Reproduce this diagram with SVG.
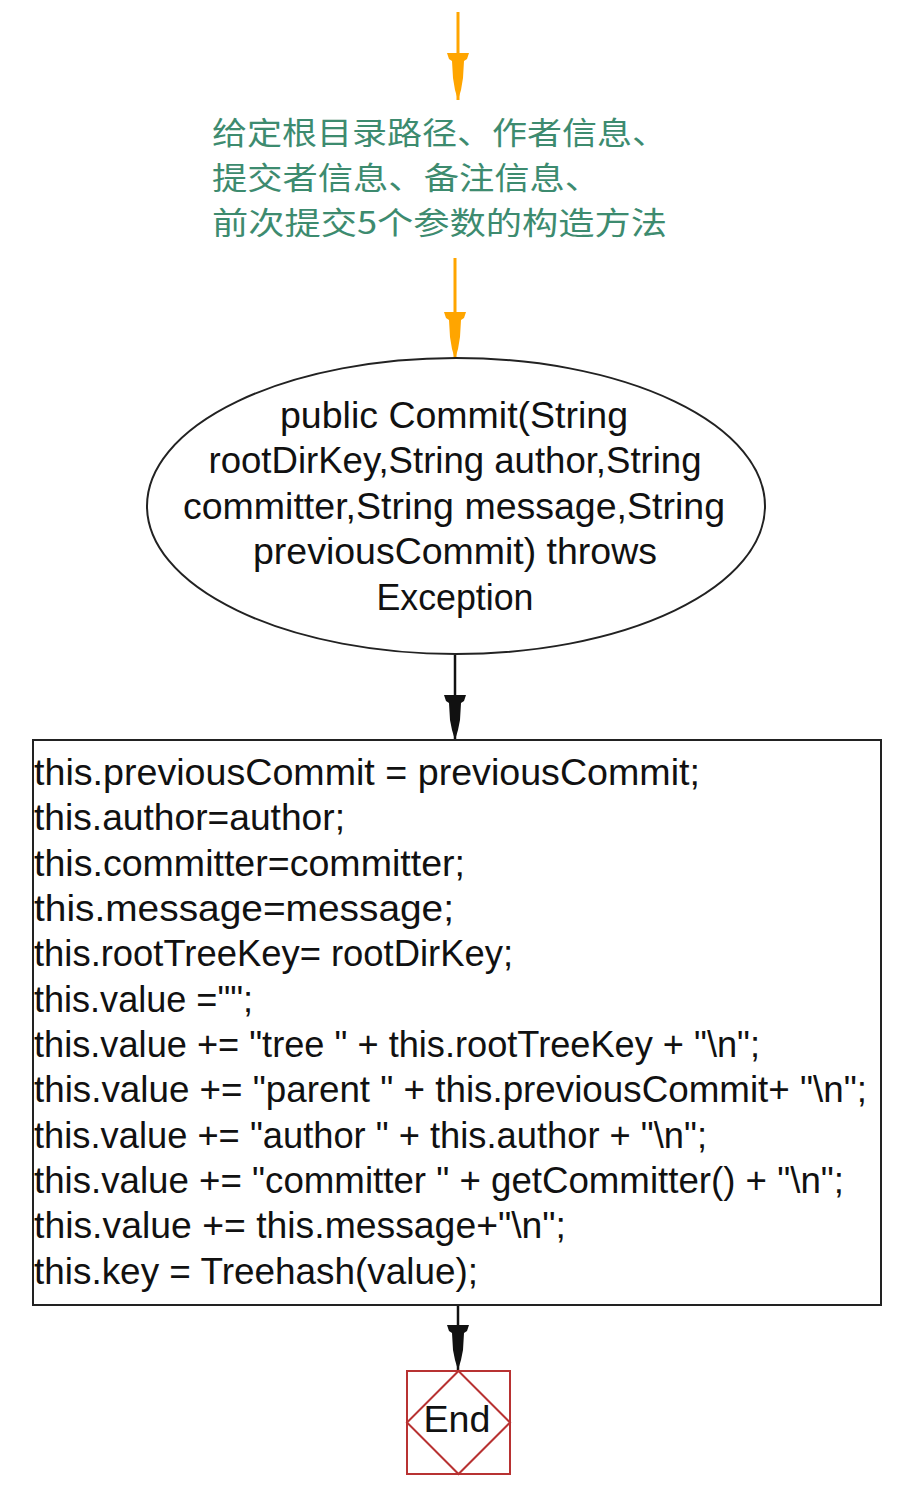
<svg xmlns="http://www.w3.org/2000/svg" width="910" height="1499" viewBox="0 0 910 1499">
<style>
.cn{font-family:"Noto Sans CJK SC","Liberation Sans",sans-serif;font-size:31px;fill:#3d8b6f}
.t{font-family:"Liberation Sans",Arial,sans-serif;font-size:36px;fill:#111}
.node{fill:#fff;stroke:#222;stroke-width:2}
.org{stroke:#ffa500;stroke-width:3;fill:none}
.blk{stroke:#111;stroke-width:2.5;fill:none}
.end{fill:none;stroke:#b83232;stroke-width:2}
</style>
<defs>
<marker id="ho" markerUnits="userSpaceOnUse" orient="auto" refX="0" refY="0" markerWidth="60" markerHeight="30" viewBox="-50 -15 60 30" overflow="visible">
<path d="M-47,-11 L-47,11 L-41,9 L-39,6 L-22,5 L-10,3 L0,0 L-10,-3 L-22,-5 L-39,-6 L-41,-9 Z" fill="#ffa500"/>
</marker>
<marker id="hb" markerUnits="userSpaceOnUse" orient="auto" refX="0" refY="0" markerWidth="60" markerHeight="30" viewBox="-50 -15 60 30" overflow="visible">
<path d="M-45,-11 L-45,11 L-39,9 L-37,6 L-20,5 L-10,3 L0,0 L-10,-3 L-20,-5 L-37,-6 L-39,-9 Z" fill="#111"/>
</marker>
</defs>

<g id="connectors">
<line class="org" x1="458" y1="12" x2="458" y2="100" marker-end="url(#ho)"/>
<line class="org" x1="455" y1="258" x2="455" y2="359" marker-end="url(#ho)"/>
<line class="blk" x1="455" y1="655" x2="455" y2="740" marker-end="url(#hb)"/>
<line class="blk" x1="458" y1="1305" x2="458" y2="1370" marker-end="url(#hb)"/>
</g>

<g id="label">
<text class="cn" x="212" y="144" textLength="455" lengthAdjust="spacingAndGlyphs">给定根目录路径、作者信息、</text>
<text class="cn" x="212" y="189" textLength="388" lengthAdjust="spacingAndGlyphs">提交者信息、备注信息、</text>
<text class="cn" x="212" y="234" textLength="455" lengthAdjust="spacingAndGlyphs">前次提交5个参数的构造方法</text>
</g>

<g id="start">
<ellipse class="node" cx="456" cy="506" rx="309" ry="148"/>
<g text-anchor="middle">
<text class="t" x="454" y="428" textLength="348" lengthAdjust="spacingAndGlyphs">public Commit(String</text>
<text class="t" x="455" y="473" textLength="493" lengthAdjust="spacingAndGlyphs">rootDirKey,String author,String</text>
<text class="t" x="454" y="519" textLength="542" lengthAdjust="spacingAndGlyphs">committer,String message,String</text>
<text class="t" x="455" y="564" textLength="404" lengthAdjust="spacingAndGlyphs">previousCommit) throws</text>
<text class="t" x="455" y="610" textLength="157" lengthAdjust="spacingAndGlyphs">Exception</text>
</g>
</g>

<g id="body">
<rect class="node" x="33" y="740" width="848" height="565"/>
<text class="t" x="34" y="785" textLength="666" lengthAdjust="spacingAndGlyphs">this.previousCommit = previousCommit;</text>
<text class="t" x="34" y="830" textLength="311" lengthAdjust="spacingAndGlyphs">this.author=author;</text>
<text class="t" x="34" y="876" textLength="431" lengthAdjust="spacingAndGlyphs">this.committer=committer;</text>
<text class="t" x="34" y="921" textLength="420" lengthAdjust="spacingAndGlyphs">this.message=message;</text>
<text class="t" x="34" y="966" textLength="479" lengthAdjust="spacingAndGlyphs">this.rootTreeKey= rootDirKey;</text>
<text class="t" x="34" y="1012" textLength="219" lengthAdjust="spacingAndGlyphs">this.value ="";</text>
<text class="t" x="34" y="1057" textLength="726" lengthAdjust="spacingAndGlyphs">this.value += "tree " + this.rootTreeKey + "\n";</text>
<text class="t" x="34" y="1102" textLength="833" lengthAdjust="spacingAndGlyphs">this.value += "parent " + this.previousCommit+ "\n";</text>
<text class="t" x="34" y="1148" textLength="673" lengthAdjust="spacingAndGlyphs">this.value += "author " + this.author + "\n";</text>
<text class="t" x="34" y="1193" textLength="810" lengthAdjust="spacingAndGlyphs">this.value += "committer " + getCommitter() + "\n";</text>
<text class="t" x="34" y="1238" textLength="532" lengthAdjust="spacingAndGlyphs">this.value += this.message+"\n";</text>
<text class="t" x="34" y="1284" textLength="444" lengthAdjust="spacingAndGlyphs">this.key = Treehash(value);</text>
</g>

<g id="end">
<rect class="end" x="407" y="1371" width="103" height="103"/>
<polygon class="end" points="458.5,1371 510,1422.5 458.5,1474 407,1422.5"/>
<text class="t" x="457" y="1432" text-anchor="middle" textLength="67" lengthAdjust="spacingAndGlyphs">End</text>
</g>
</svg>
